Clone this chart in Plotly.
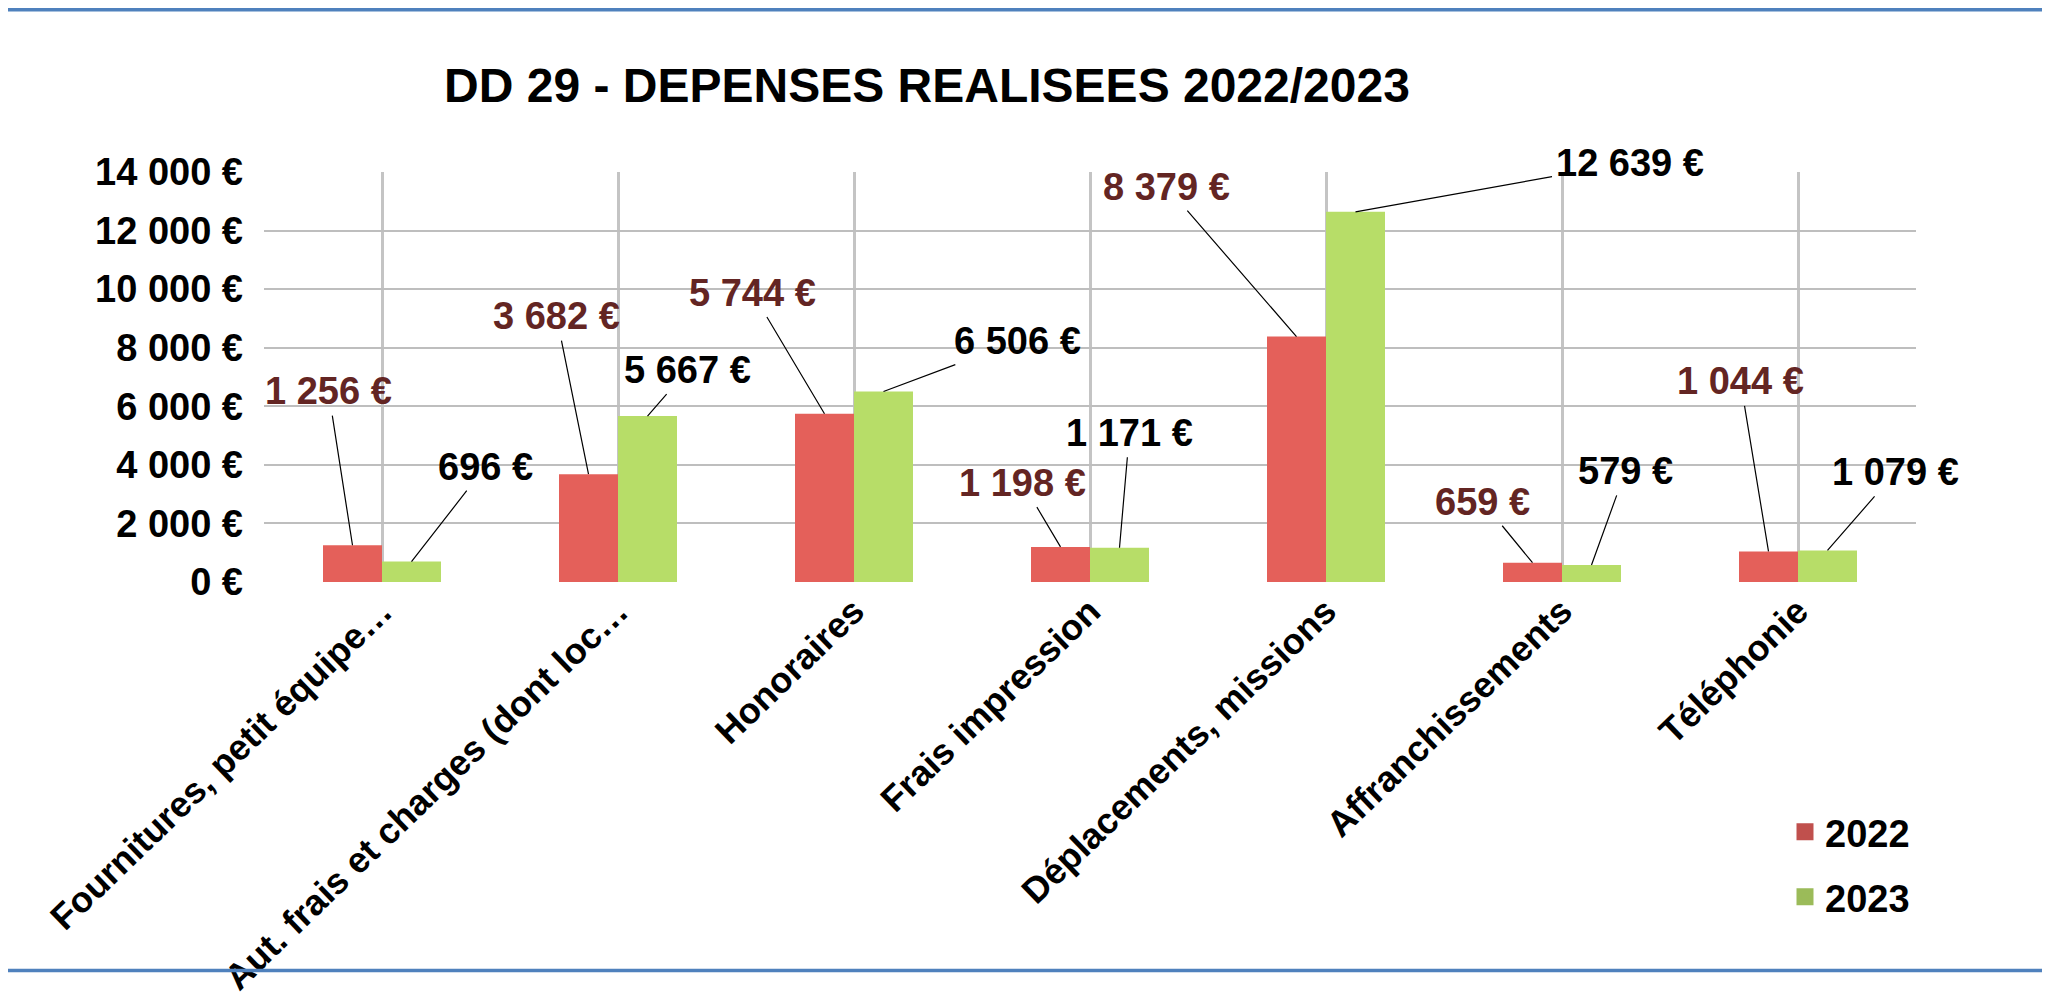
import plotly.graph_objects as go

# ---------------- data ----------------
categories = [
    "Fournitures, petit équipe…",
    "Aut. frais et charges (dont loc…",
    "Honoraires",
    "Frais impression",
    "Déplacements, missions",
    "Affranchissements",
    "Téléphonie",
]
values_2022 = [1256, 3682, 5744, 1198, 8379, 659, 1044]
values_2023 = [696, 5667, 6506, 1171, 12639, 579, 1079]
series_names = ["2022", "2023"]
y_ticks = [0, 2000, 4000, 6000, 8000, 10000, 12000, 14000]
y_tick_labels = ["0 €", "2 000 €", "4 000 €", "6 000 €", "8 000 €", "10 000 €", "12 000 €", "14 000 €"]
title_text = "DD 29 - DEPENSES REALISEES 2022/2023"

# ---------------- styling / layout ----------------
OFF = 8                      # page body margin of the html page
PAGE_W, PAGE_H = 2050, 1003
W, H = PAGE_W - OFF, PAGE_H - OFF
# plot area (page pixels): x 264..1916, y 172..582
PX_L, PX_R, PX_T, PX_B = 264, 1916, 172, 582
ML, MR, MT, MB = PX_L - OFF, W - (PX_R - OFF), PX_T - OFF, H - (PX_B - OFF)
FONT = "Liberation Sans, Arial, sans-serif"
BAR_GAP = 0.5
RED_BAR, GREEN_BAR = "#E4605A", "#B7DD68"
RED_LEG, GREEN_LEG = "#C0504D", "#9BBB59"
RED_LABEL = "#632523"
LABEL_SIZE = 38

# label offsets (pixels, from the top of each bar to the label centre)
label_offsets_2022 = [(-24, -154), (-32, -158), (-72, -121), (-38, -64), (-130, -150), (-50, -61), (-28, -170)]
label_offsets_2023 = [(74, -95), (40, -46), (134, -50), (10, -115), (274, -49), (34, -94), (68, -78)]


def euro(v):
    return f"{v:,}".replace(",", " ") + " €"


fig = go.Figure()
fig.add_trace(go.Bar(x=categories, y=values_2022, name=series_names[0], marker_color=RED_BAR,
                     marker_line_width=0, offsetgroup="a", showlegend=False, hoverinfo="skip"))
fig.add_trace(go.Bar(x=categories, y=values_2023, name=series_names[1], marker_color=GREEN_BAR,
                     marker_line_width=0, offsetgroup="b", showlegend=False, hoverinfo="skip"))
# legend entries (one legend box per series so that each can be placed)
fig.add_trace(go.Bar(x=categories, y=[None] * len(categories), name=series_names[0],
                     marker=dict(color=RED_LEG, line=dict(color=RED_LEG, width=8)),
                     offsetgroup="a", legend="legend"))
fig.add_trace(go.Bar(x=categories, y=[None] * len(categories), name=series_names[1],
                     marker=dict(color=GREEN_LEG, line=dict(color=GREEN_LEG, width=8)),
                     offsetgroup="b", legend="legend2"))

half = (1 - BAR_GAP) / 4.0
annotations = []
for i, (v, (dx, dy)) in enumerate(zip(values_2022, label_offsets_2022)):
    annotations.append(dict(x=i - half, y=v, xref="x", yref="y", text=euro(v), showarrow=True,
                            arrowhead=0, arrowwidth=1.2, arrowcolor="#000000", ax=dx, ay=dy,
                            standoff=0, startstandoff=2,
                            font=dict(family=FONT, size=LABEL_SIZE, color=RED_LABEL, weight="bold")))
for i, (v, (dx, dy)) in enumerate(zip(values_2023, label_offsets_2023)):
    annotations.append(dict(x=i + half, y=v, xref="x", yref="y", text=euro(v), showarrow=True,
                            arrowhead=0, arrowwidth=1.2, arrowcolor="#000000", ax=dx, ay=dy,
                            standoff=0, startstandoff=2,
                            font=dict(family=FONT, size=LABEL_SIZE, color="#000000", weight="bold")))

pw, ph = W - ML - MR, H - MT - MB


def page_to_paper_x(px):
    return (px - OFF - ML) / pw


def page_to_paper_y(py):
    return (H - MB - (py - OFF)) / ph


def page_to_cont_x(px):
    return (px - OFF) / W


def page_to_cont_y(py):
    return 1 - (py - OFF) / H


shapes = [
    dict(type="line", xref="paper", yref="paper", x0=page_to_paper_x(OFF), x1=page_to_paper_x(PAGE_W),
         y0=page_to_paper_y(OFF + 1.8), y1=page_to_paper_y(OFF + 1.8), line=dict(color="#4F81BD", width=3.5)),
    dict(type="line", xref="paper", yref="paper", x0=page_to_paper_x(OFF), x1=page_to_paper_x(PAGE_W),
         y0=page_to_paper_y(970.5), y1=page_to_paper_y(970.5), line=dict(color="#4F81BD", width=3.5)),
]

legend_style = dict(xref="container", yref="container", xanchor="left", yanchor="middle",
                    font=dict(family=FONT, size=38, color="#000000", weight="bold"),
                    bgcolor="rgba(0,0,0,0)", borderwidth=0)

fig.update_layout(
    template="none",
    width=W, height=H, autosize=False,
    margin=dict(l=ML, r=MR, t=MT, b=MB, pad=0, autoexpand=False),
    paper_bgcolor="white", plot_bgcolor="white",
    barmode="group", bargap=BAR_GAP, bargroupgap=0,
    title=dict(text=title_text, x=page_to_cont_x(927), xref="container", xanchor="center",
               y=page_to_cont_y(85), yref="container", yanchor="middle",
               font=dict(family=FONT, size=48, color="#000000", weight="bold")),
    font=dict(family=FONT, size=37, color="#000000"),
    xaxis=dict(type="category", range=[-0.5, len(categories) - 0.5], autorange=False,
               showgrid=True, gridcolor="#C4C4C4", gridwidth=3,
               tickangle=-44, showline=False, zeroline=False, ticks="", automargin=False,
               tickfont=dict(family=FONT, size=36, color="#000000", weight="bold")),
    yaxis=dict(range=[0, 14000], autorange=False, tickvals=y_ticks, ticktext=y_tick_labels,
               automargin=False, showgrid=True, gridcolor="#BEBEBE", gridwidth=2, zeroline=False,
               showline=False, ticks="", ticklabelstandoff=20,
               tickfont=dict(family=FONT, size=38, color="#000000", weight="bold")),
    legend=dict(x=page_to_cont_x(1785), y=page_to_cont_y(832), **legend_style),
    legend2=dict(x=page_to_cont_x(1785), y=page_to_cont_y(897), **legend_style),
    annotations=annotations,
    shapes=shapes,
)

fig.write_html("out.html")
